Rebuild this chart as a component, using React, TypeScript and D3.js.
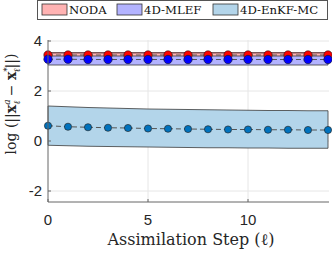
import { useEffect, useRef } from 'react';
import * as d3 from 'd3';

const steps = d3.range(0, 15);

const nodaMean = [3.44, 3.44, 3.44, 3.44, 3.44, 3.44, 3.44, 3.44, 3.44, 3.44, 3.44, 3.44, 3.44, 3.44, 3.44];
const nodaLow = [3.40, 3.40, 3.40, 3.40, 3.40, 3.40, 3.40, 3.40, 3.40, 3.40, 3.40, 3.40, 3.40, 3.40, 3.40];
const nodaHigh = [3.53, 3.53, 3.53, 3.53, 3.53, 3.53, 3.53, 3.53, 3.53, 3.53, 3.53, 3.53, 3.53, 3.53, 3.53];

const mlefMean = [3.27, 3.27, 3.26, 3.26, 3.26, 3.26, 3.26, 3.26, 3.26, 3.26, 3.26, 3.26, 3.26, 3.26, 3.26];
const mlefLow = [3.04, 3.04, 3.04, 3.04, 3.04, 3.04, 3.04, 3.04, 3.04, 3.04, 3.04, 3.04, 3.04, 3.04, 3.04];
const mlefHigh = [3.50, 3.50, 3.50, 3.50, 3.50, 3.50, 3.50, 3.50, 3.50, 3.50, 3.50, 3.50, 3.50, 3.50, 3.50];

const enkfMean = [0.61, 0.57, 0.55, 0.53, 0.52, 0.50, 0.49, 0.48, 0.47, 0.46, 0.46, 0.45, 0.45, 0.44, 0.44];
const enkfHigh = [1.40, 1.37, 1.34, 1.32, 1.30, 1.28, 1.27, 1.26, 1.25, 1.24, 1.23, 1.22, 1.22, 1.21, 1.21];
const enkfLow = [-0.17, -0.19, -0.21, -0.22, -0.23, -0.24, -0.25, -0.26, -0.27, -0.27, -0.28, -0.28, -0.29, -0.29, -0.29];

const xTicks = [0, 5, 10];
const yTicks = [-2, 0, 2, 4];
const legendNames = ['NODA', '4D-MLEF', '4D-EnKF-MC'];

const App = () => {
  const ref = useRef<SVGSVGElement>(null);

  useEffect(() => {
    if (!ref.current) return;
    const svg = d3.select(ref.current);
    svg.selectAll('*').remove();

    const left = 48, right = 328, top = 40, bottom = 202;
    const x = d3.scaleLinear().domain([0, 14]).range([left, right]);
    const y = d3.scaleLinear().domain([-2.44, 4]).range([bottom, bottom - 6.44 * 25]);

    // grid
    svg.append('g').selectAll('line.gx')
      .data(xTicks.filter(d => d > 0))
      .join('line')
      .attr('x1', d => x(d)).attr('x2', d => x(d))
      .attr('y1', top).attr('y2', bottom)
      .attr('stroke', '#e6e6e6').attr('stroke-width', 1);
    svg.append('g').selectAll('line.gy')
      .data(yTicks)
      .join('line')
      .attr('x1', left).attr('x2', right + 1)
      .attr('y1', d => y(d)).attr('y2', d => y(d))
      .attr('stroke', '#e6e6e6').attr('stroke-width', 1);

    const series = [
      { mean: enkfMean, low: enkfLow, high: enkfHigh, fill: '#b3d5ea', dot: '#0072bd', r: 3.6 },
      { mean: mlefMean, low: mlefLow, high: mlefHigh, fill: '#b3b3ff', dot: '#0000ff', r: 4.2 },
      { mean: nodaMean, low: nodaLow, high: nodaHigh, fill: '#ffb3b3', dot: '#ff0000', r: 4.2 },
    ];

    const area = d3.area<number>()
      .x((_, i) => x(steps[i]));

    // bands
    series.forEach(s => {
      svg.append('path')
        .datum(steps)
        .attr('d', area.y0((_, i) => y(s.low[i])).y1((_, i) => y(s.high[i]))(steps) as string)
        .attr('fill', s.fill)
        .attr('stroke', '#3a3a3a')
        .attr('stroke-width', 0.8);
    });

    // NODA band top edge darker brown line
    svg.append('path')
      .attr('d', d3.line<number>().x((_, i) => x(steps[i])).y((_, i) => y(nodaHigh[i]))(steps) as string)
      .attr('fill', 'none').attr('stroke', '#7a4a4a').attr('stroke-width', 1.2);

    // lines and dots, drawn EnKF, NODA, MLEF so blue dots overlap red ones
    const order = [series[0], series[2], series[1]];
    order.forEach(s => {
      svg.append('path')
        .attr('d', d3.line<number>().x((_, i) => x(steps[i])).y((_, i) => y(s.mean[i]))(steps) as string)
        .attr('fill', 'none')
        .attr('stroke', '#555')
        .attr('stroke-width', 1)
        .attr('stroke-dasharray', '5,3');
    });
    order.forEach(s => {
      svg.append('g').selectAll('circle')
        .data(steps)
        .join('circle')
        .attr('cx', d => x(d))
        .attr('cy', (_, i) => y(s.mean[i]))
        .attr('r', s.r)
        .attr('fill', s.dot)
        .attr('stroke', '#1a1a1a')
        .attr('stroke-width', 0.6);
    });

    // axes
    svg.append('line')
      .attr('x1', left).attr('x2', right + 1).attr('y1', bottom).attr('y2', bottom)
      .attr('stroke', '#666').attr('stroke-width', 1);
    svg.append('line')
      .attr('x1', left).attr('x2', left).attr('y1', top).attr('y2', bottom)
      .attr('stroke', '#666').attr('stroke-width', 1);
    svg.selectAll('line.xt')
      .data(xTicks)
      .join('line')
      .attr('x1', d => x(d)).attr('x2', d => x(d))
      .attr('y1', bottom).attr('y2', bottom - 3)
      .attr('stroke', '#666');
    svg.selectAll('line.yt')
      .data(yTicks)
      .join('line')
      .attr('x1', left).attr('x2', left + 3)
      .attr('y1', d => y(d)).attr('y2', d => y(d))
      .attr('stroke', '#666');

    const sans = 'Liberation Sans, Arial, sans-serif';
    svg.append('g').selectAll('text')
      .data(xTicks)
      .join('text')
      .attr('x', d => x(d)).attr('y', 225)
      .attr('text-anchor', 'middle')
      .attr('font-family', sans).attr('font-size', 15)
      .attr('fill', '#262626')
      .text(d => String(d));
    svg.append('g').selectAll('text')
      .data(yTicks)
      .join('text')
      .attr('x', 42).attr('y', d => y(d) + 5)
      .attr('text-anchor', 'end')
      .attr('font-family', sans).attr('font-size', 15)
      .attr('fill', '#262626')
      .text(d => String(d));

    const serif = 'DejaVu Serif, serif';
    svg.append('text')
      .attr('x', 191).attr('y', 245)
      .attr('text-anchor', 'middle')
      .attr('font-family', serif).attr('font-size', 16)
      .attr('fill', '#262626')
      .text('Assimilation Step (ℓ)');

    // y label
    const yl = svg.append('text')
      .attr('transform', 'translate(16,104) rotate(-90)')
      .attr('text-anchor', 'middle')
      .attr('font-family', serif).attr('font-size', 14)
      .attr('fill', '#262626');
    yl.append('tspan').text('log (||');
    yl.append('tspan').attr('font-weight', 'bold').text('x');
    yl.append('tspan').attr('font-size', 9).attr('dy', -6).attr('font-style', 'italic').text('a');
    yl.append('tspan').attr('font-size', 9).attr('dx', -5).attr('dy', 10).attr('font-style', 'italic').text('ℓ');
    yl.append('tspan').attr('dy', -4).text(' − ');
    yl.append('tspan').attr('font-weight', 'bold').text('x');
    yl.append('tspan').attr('font-size', 9).attr('dy', -6).text('*');
    yl.append('tspan').attr('font-size', 9).attr('dx', -5).attr('dy', 10).attr('font-style', 'italic').text('ℓ');
    yl.append('tspan').attr('dy', -4).text('||)');

    // legend
    const lg = svg.append('g');
    lg.append('rect')
      .attr('x', 37.5).attr('y', 0.5).attr('width', 290).attr('height', 19)
      .attr('fill', '#fff').attr('stroke', '#555').attr('stroke-width', 1);
    const legendX = [42, 117, 213];
    const legendFill = ['#ffb3b3', '#b3b3ff', '#b3d5ea'];
    legendNames.forEach((n, i) => {
      lg.append('rect')
        .attr('x', legendX[i]).attr('y', 4).attr('width', 25).attr('height', 11)
        .attr('fill', legendFill[i]).attr('stroke', '#333').attr('stroke-width', 0.8);
      lg.append('text')
        .attr('x', legendX[i] + 27).attr('y', 14)
        .attr('font-family', serif).attr('font-size', 11.7)
        .attr('fill', '#111')
        .text(n);
    });
  }, []);

  return <svg ref={ref} width={332} height={253} style={{ position: 'absolute', left: 0, top: 0 }} />;
};

export default App;
